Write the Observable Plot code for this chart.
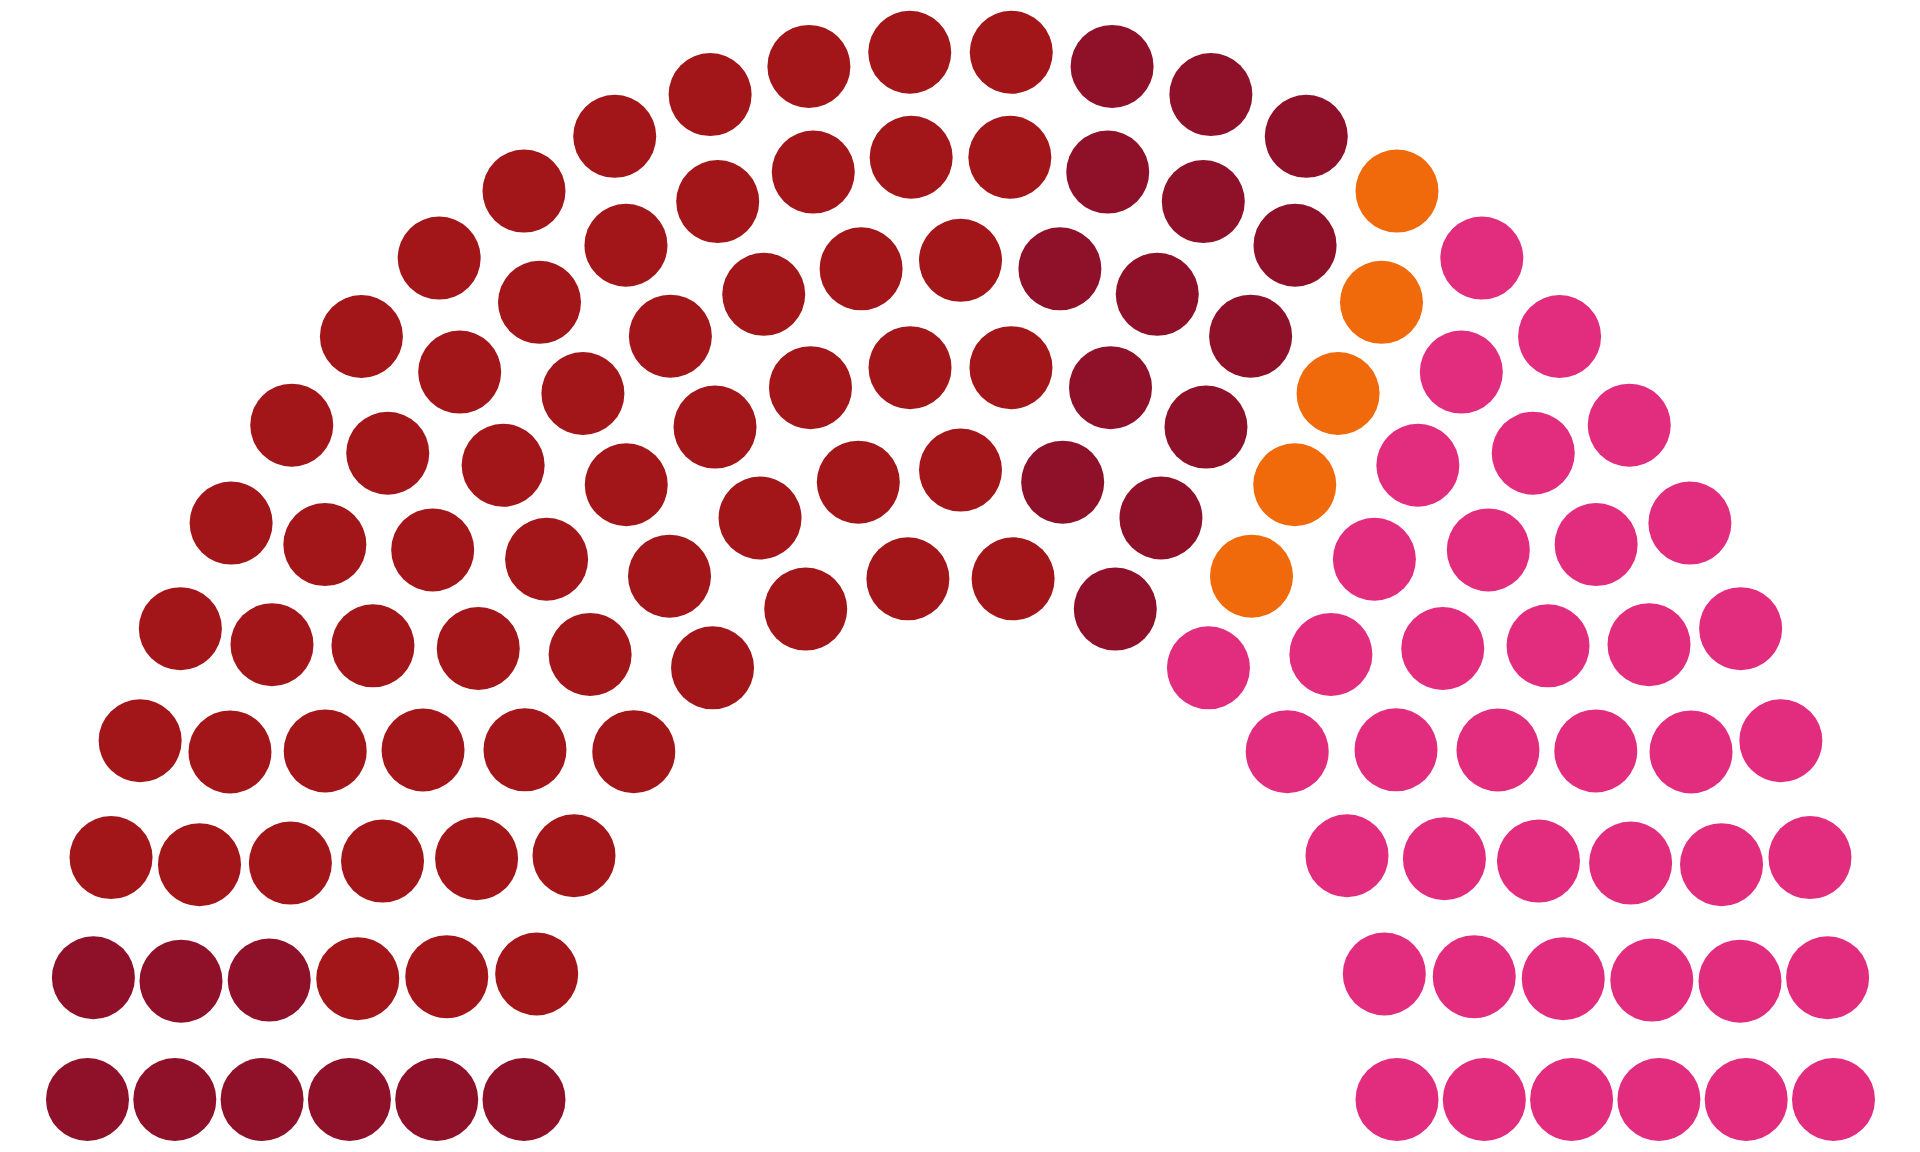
<!DOCTYPE html>
<html>
<head>
<meta charset="utf-8">
<script src="https://cdn.jsdelivr.net/npm/d3@7"></script>
<script src="https://cdn.jsdelivr.net/npm/@observablehq/plot@0.6"></script>
<style>
  html, body { margin: 0; padding: 0; background: #ffffff; }
  #chart svg { display: block; }
</style>
</head>
<body>
<div id="chart"></div>
<script>
// Parties in seating order (left to right)
const parties = ["Party A", "Party B", "Party C", "Party D", "Party E"];
const seats = [9, 60, 14, 5, 40];
const colors = ["#8E1029", "#A2161A", "#8E1029", "#F0690B", "#E22C7E"];

// Parliament arch layout: 6 concentric rings, inner radius 0.5
const rings = 6;
const inner = 0.5;
const total = d3.sum(seats);
const radii = d3.range(rings).map(i => 1 - i * (1 - inner) / (rings - 1));
const rSum = d3.sum(radii);
const perRing = radii.map(r => Math.round(total * r / rSum));
let diff = total - d3.sum(perRing);
for (let i = 0; diff !== 0; i = (i + 1) % rings) {
  perRing[i] += Math.sign(diff);
  diff -= Math.sign(diff);
}

const slots = [];
radii.forEach((r, ri) => {
  const n = perRing[ri];
  for (let k = 0; k < n; k++) {
    const t = n === 1 ? Math.PI / 2 : Math.PI * k / (n - 1);
    slots.push({ring: ri, t, x: -r * Math.cos(t), y: r * Math.sin(t)});
  }
});
slots.sort((a, b) => (a.t - b.t) || (a.ring - b.ring));

let idx = 0;
parties.forEach((p, pi) => {
  for (let s = 0; s < seats[pi]; s++) slots[idx++].party = p;
});

const chart = Plot.plot({
  width: 1920,
  height: 1152,
  marginLeft: 87,
  marginRight: 87,
  marginTop: 50,
  marginBottom: 53,
  x: {domain: [-1, 1], axis: null},
  y: {domain: [0, 1], axis: null},
  color: {domain: parties, range: colors, type: "ordinal"},
  style: {background: "#ffffff"},
  marks: [
    Plot.dot(slots, {x: "x", y: "y", r: 41.5, fill: "party", stroke: "none"})
  ]
});
document.getElementById("chart").appendChild(chart);
</script>
</body>
</html>
